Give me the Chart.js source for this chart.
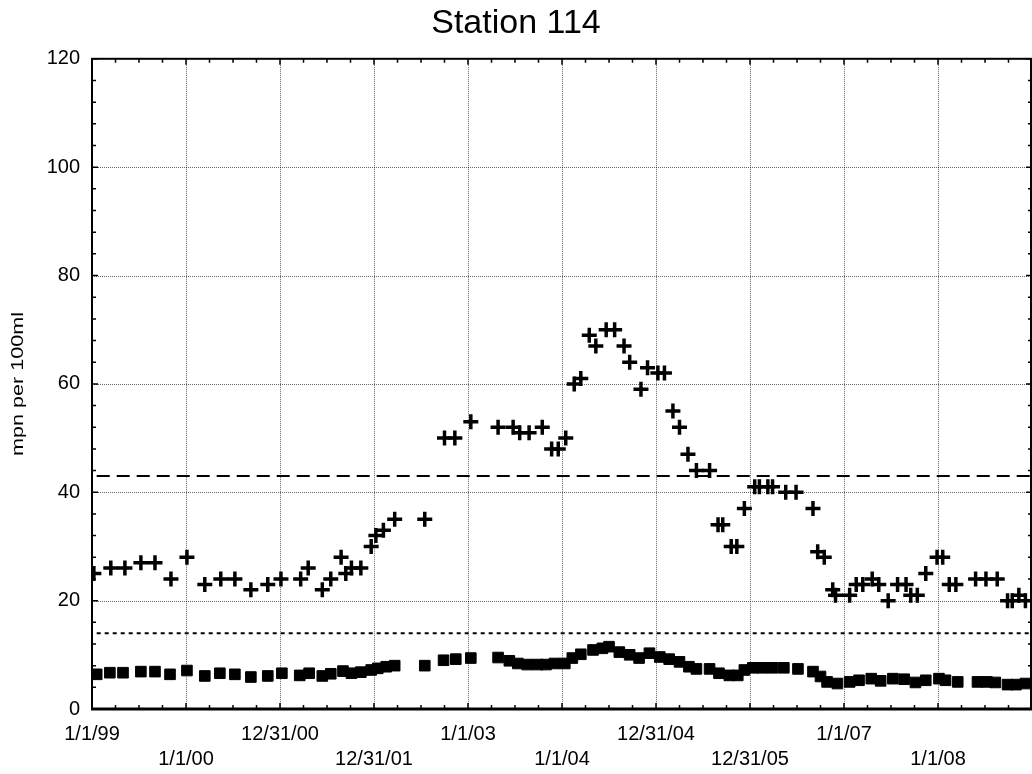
<!DOCTYPE html>
<html>
<head>
<meta charset="utf-8">
<script src="https://cdn.jsdelivr.net/npm/chart.js@4/dist/chart.umd.min.js"></script>
<style>
  body { margin: 0; background: #fff; }
  #wrap { width: 1032px; height: 774px; }
</style>
</head>
<body>
<div id="wrap"><canvas id="stationChart" width="1032" height="774"></canvas></div>
<script>
// Data (x = decimal year)
const tickYears = [1999, 2000, 2001, 2002, 2003, 2004, 2005, 2006, 2007, 2008];
const tickLabels = ['1/1/99', '1/1/00', '12/31/00', '12/31/01', '1/1/03', '1/1/04', '12/31/04', '12/31/05', '1/1/07', '1/1/08'];

const crossYears = [1999.02, 1999.20, 1999.35, 1999.52, 1999.67, 1999.84,
    2000.01, 2000.20, 2000.37, 2000.52, 2000.69, 2000.87,
    2001.01, 2001.22, 2001.30, 2001.45, 2001.54, 2001.65, 2001.70, 2001.76, 2001.86, 2001.97,
    2002.02, 2002.10, 2002.22, 2002.54, 2002.75, 2002.86,
    2003.03, 2003.32, 2003.48, 2003.55, 2003.65, 2003.79, 2003.89, 2003.96,
    2004.04, 2004.13, 2004.20, 2004.29, 2004.36, 2004.47, 2004.56, 2004.66, 2004.72, 2004.84, 2004.91,
    2005.02, 2005.09, 2005.18, 2005.25, 2005.34, 2005.43, 2005.57, 2005.66, 2005.71, 2005.80, 2005.86, 2005.94,
    2006.05, 2006.10, 2006.19, 2006.24, 2006.38, 2006.49, 2006.67, 2006.72, 2006.79, 2006.88, 2006.91,
    2007.06, 2007.13, 2007.20, 2007.30, 2007.37, 2007.47, 2007.57, 2007.66, 2007.71, 2007.78, 2007.87, 2007.99,
    2008.05, 2008.12, 2008.19, 2008.40, 2008.51, 2008.63, 2008.74, 2008.79, 2008.86, 2008.93];
const crossValues = [25, 26, 26, 27, 27, 24,
    28, 23, 24, 24, 22, 23,
    24, 24, 26, 22, 24, 28, 25, 26, 26, 30,
    32, 33, 35, 35, 50, 50,
    53, 52, 52, 51, 51, 52, 48, 48,
    50, 60, 61, 69, 67, 70, 70, 67, 64, 59, 63,
    62, 62, 55, 52, 47, 44, 44, 34, 34, 30, 30, 37,
    41, 41, 41, 41, 40, 40, 37, 29, 28, 22, 21,
    21, 23, 23, 24, 23, 20, 23, 23, 21, 21, 25, 28,
    28, 23, 23, 24, 24, 24, 20, 20, 21, 20];

const squareYears = [1999.05, 1999.19, 1999.33, 1999.52, 1999.67, 1999.83,
    2000.01, 2000.20, 2000.36, 2000.52, 2000.69, 2000.87,
    2001.02, 2001.21, 2001.31, 2001.45, 2001.54, 2001.67, 2001.76, 2001.86, 2001.97,
    2002.04, 2002.13, 2002.22, 2002.54, 2002.74, 2002.87,
    2003.03, 2003.32, 2003.44, 2003.53, 2003.63, 2003.74, 2003.83, 2003.92,
    2004.03, 2004.11, 2004.20, 2004.33, 2004.43, 2004.50, 2004.61, 2004.72, 2004.82, 2004.93,
    2005.04, 2005.14, 2005.25, 2005.35, 2005.43, 2005.57, 2005.67, 2005.78, 2005.87, 2005.94,
    2006.03, 2006.13, 2006.24, 2006.36, 2006.51, 2006.67, 2006.75, 2006.82, 2006.93,
    2007.06, 2007.16, 2007.29, 2007.39, 2007.52, 2007.64, 2007.76, 2007.87,
    2008.01, 2008.08, 2008.21, 2008.42, 2008.52, 2008.61, 2008.74, 2008.83, 2008.93];
const squareValues = [6.4, 6.7, 6.7, 6.9, 6.9, 6.4,
    7.1, 6.1, 6.6, 6.4, 5.9, 6.1,
    6.6, 6.2, 6.6, 6.1, 6.5, 7.0, 6.6, 6.8, 7.2,
    7.5, 7.8, 8.0, 8.0, 9.0, 9.2,
    9.4, 9.5, 8.9, 8.4, 8.2, 8.2, 8.2, 8.4,
    8.4, 9.4, 10.1, 10.9, 11.2, 11.5, 10.5, 10.0, 9.4, 10.3,
    9.6, 9.2, 8.7, 7.8, 7.4, 7.4, 6.6, 6.2, 6.2, 7.2,
    7.6, 7.6, 7.6, 7.6, 7.4, 6.9, 6.0, 5.0, 4.7,
    5.0, 5.3, 5.6, 5.2, 5.6, 5.5, 4.9, 5.3,
    5.6, 5.3, 5.0, 5.0, 5.0, 4.9, 4.5, 4.5, 4.7];

// reference lines
const limitYears = [1999.05, 2008.98];
const upperLimit = [43, 43];
const lowerLimit = [14, 14];

const toPoints = (xs, ys) => xs.map((x, i) => ({ x: x, y: ys[i] }));

Chart.defaults.font.family = "'Liberation Sans', Arial, sans-serif";
Chart.defaults.color = '#000';

// dotted grid, frame, inward tick marks on all four sides, y axis title
const framePlugin = {
    id: 'frame',
    beforeDatasetsDraw(chart) {
        const { ctx, chartArea: a, scales: { x, y } } = chart;
        ctx.save();
        ctx.strokeStyle = 'rgba(0,0,0,0.6)';
        ctx.lineWidth = 1;
        ctx.setLineDash([1, 1]);
        ctx.beginPath();
        tickYears.forEach(v => {
            const px = Math.round(x.getPixelForValue(v)) + 0.5;
            ctx.moveTo(px, a.top);
            ctx.lineTo(px, a.bottom);
        });
        for (let v = 20; v < 120; v += 20) {
            const py = Math.round(y.getPixelForValue(v)) + 0.5;
            ctx.moveTo(a.left, py);
            ctx.lineTo(a.right, py);
        }
        ctx.stroke();
        ctx.restore();
    },
    afterDatasetsDraw(chart) {
        const { ctx, chartArea: a, scales: { x, y } } = chart;
        ctx.save();
        ctx.strokeStyle = '#000';
        ctx.lineWidth = 1.5;
        ctx.beginPath();
        for (let v = 1999; v <= 2009; v += 0.25) {
            const px = x.getPixelForValue(v);
            const len = Number.isInteger(v) ? 6 : 4;
            ctx.moveTo(px, a.bottom); ctx.lineTo(px, a.bottom - len);
            ctx.moveTo(px, a.top); ctx.lineTo(px, a.top + len);
        }
        for (let v = 0; v <= 120; v += 4) {
            const py = y.getPixelForValue(v);
            const len = v % 20 === 0 ? 6 : 4;
            ctx.moveTo(a.left, py); ctx.lineTo(a.left + len, py);
            ctx.moveTo(a.right, py); ctx.lineTo(a.right - len, py);
        }
        ctx.stroke();
        ctx.lineWidth = 2;
        ctx.strokeRect(a.left, a.top, a.right - a.left - 1, a.bottom - a.top);
        ctx.lineWidth = 3;
        ctx.beginPath();
        ctx.moveTo(a.left - 1, a.bottom);
        ctx.lineTo(a.right, a.bottom);
        ctx.stroke();

        // y axis title, drawn a bit stretched along its length like the original
        ctx.translate(19, (a.top + a.bottom) / 2);
        ctx.rotate(-Math.PI / 2);
        ctx.scale(1.35, 1);
        ctx.font = "16px 'Liberation Sans', Arial, sans-serif";
        ctx.fillStyle = '#000';
        ctx.textAlign = 'center';
        ctx.textBaseline = 'middle';
        ctx.fillText('mpn per 100ml', 0, 0);
        ctx.restore();
    }
};

new Chart(document.getElementById('stationChart'), {
    type: 'scatter',
    data: {
        datasets: [
            {
                label: 'upper',
                type: 'line',
                data: toPoints(limitYears, upperLimit),
                borderColor: '#000',
                borderWidth: 2,
                borderDash: [13, 7],
                pointRadius: 0,
                fill: false
            },
            {
                label: 'lower',
                type: 'line',
                data: toPoints(limitYears, lowerLimit),
                borderColor: '#000',
                borderWidth: 2,
                borderDash: [4, 4],
                pointRadius: 0,
                fill: false
            },
            {
                label: 'crosses',
                data: toPoints(crossYears, crossValues),
                pointStyle: 'cross',
                pointRadius: 7.5,
                borderColor: '#000',
                borderWidth: 3.5
            },
            {
                label: 'squares',
                data: toPoints(squareYears, squareValues),
                pointStyle: 'rect',
                pointRadius: 7.5,
                backgroundColor: '#000',
                borderColor: '#000',
                borderWidth: 1
            }
        ]
    },
    options: {
        responsive: false,
        animation: false,
        layout: { autoPadding: false, padding: 0 },
        plugins: {
            legend: { display: false },
            tooltip: { enabled: false },
            title: {
                display: true,
                text: 'Station 114',
                font: { size: 34, weight: 'normal' },
                color: '#000',
                padding: { top: 3, bottom: 15 }
            }
        },
        scales: {
            x: {
                type: 'linear',
                min: 1999,
                max: 2009,
                afterBuildTicks: scale => {
                    scale.ticks = tickYears.map(v => ({ value: v }));
                },
                afterFit: scale => { scale.height = 65; },
                grid: { display: false, drawTicks: false },
                border: { display: false },
                ticks: {
                    autoSkip: false,
                    maxRotation: 0,
                    padding: 13,
                    font: { size: 20, lineHeight: 1.25 },
                    color: '#000',
                    callback: value => {
                        const i = tickYears.indexOf(value);
                        if (i < 0) return '';
                        return i % 2 === 0 ? [tickLabels[i], ''] : ['', tickLabels[i]];
                    }
                }
            },
            y: {
                min: 0,
                max: 120,
                afterFit: scale => { scale.width = 92; },
                grid: { display: false, drawTicks: false },
                border: { display: false },
                ticks: {
                    stepSize: 20,
                    padding: 12,
                    font: { size: 20 },
                    color: '#000'
                }
            }
        }
    },
    plugins: [framePlugin]
});
</script>
</body>
</html>
